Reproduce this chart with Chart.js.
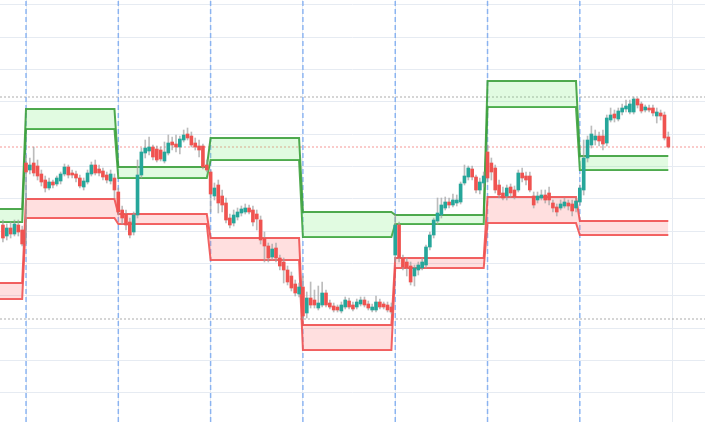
<!DOCTYPE html>
<html>
<head>
<meta charset="utf-8">
<script src="https://cdn.jsdelivr.net/npm/chart.js@4"></script>
<style>
  html, body { margin: 0; padding: 0; background: #fff; }
  #wrap { width: 705px; height: 422px; }
</style>
</head>
<body>
<div id="wrap"><canvas id="priceChart"></canvas></div>
<script>
// daily candles [open, high, low, close], one row per session
const ohlc = [
  // period 0 (partial)
  [200,205,183,187],[189,201,185,197],[197,203,187,191],[191,205,189,201],[200,205,189,193],[195,199,179,181],
  // period 1
  [262,270,181,253],[255,267,251,260],[262,278,249,252],[259,265,245,249],[251,255,239,243],[245,249,233,237],
  [237,247,235,243],[243,245,237,240],[241,249,239,247],[244,253,241,251],[251,261,249,258],[258,260,247,250],
  [252,255,247,250],[251,254,243,247],[247,250,237,239],[238,247,235,244],[243,255,241,252],[251,263,249,260],
  [260,265,250,252],[256,260,249,252],[254,257,245,248],[250,253,242,245],[244,255,241,251],[247,251,227,235],
  // period 2
  [233,237,210,213],[215,219,201,207],[211,215,195,200],[203,207,187,190],[193,213,190,210],[210,265,207,250],
  [250,277,247,273],[272,285,267,277],[274,288,270,278],[278,280,265,268],[276,279,263,265],[275,278,264,266],
  [264,283,262,273],[272,290,270,282],[283,288,275,280],[281,290,273,278],[278,289,271,286],[285,295,283,290],
  [291,297,285,287],[289,293,278,280],[282,287,275,278],[279,285,268,275],[279,281,256,258],[260,265,253,255],
  // period 3
  [253,255,213,231],[229,242,225,237],[240,245,212,222],[229,235,213,220],[222,227,202,205],[207,211,197,200],
  [202,215,199,210],[208,217,205,213],[212,219,209,216],[213,221,211,217],[217,220,211,213],[215,219,199,203],
  [211,215,195,206],[205,209,181,185],[187,193,163,179],[179,182,163,167],[168,181,165,176],[177,182,163,167],
  [167,170,155,159],[163,167,142,155],[155,159,140,143],[149,153,134,137],[141,145,129,132],[131,142,128,138],
  // period 4
  [138,149,106,109],[112,133,107,127],[127,143,117,120],[125,135,117,120],[117,139,115,122],[120,143,118,132],
  [132,135,118,120],[122,125,116,118],[119,122,113,115],[118,120,113,115],[114,123,112,120],[118,128,116,125],
  [124,127,116,118],[120,123,114,116],[118,126,116,123],[121,128,119,125],[125,128,118,120],[121,124,115,117],
  [115,121,113,118],[115,129,113,123],[123,126,116,118],[121,123,116,118],[120,123,113,115],[118,122,111,113],
  // period 5
  [170,210,163,200],[200,203,163,167],[167,170,155,158],[163,167,149,157],[159,163,140,143],[149,160,139,157],
  [155,163,150,160],[157,167,155,163],[160,180,157,178],[178,193,175,190],[190,207,187,205],[204,227,201,212],
  [210,227,207,220],[217,228,215,223],[223,227,217,220],[220,231,218,225],[222,230,219,225],[223,243,221,241],
  [242,260,240,249],[248,259,245,257],[256,259,245,248],[248,250,232,235],[235,247,231,243],[242,253,238,249],
  // period 6
  [273,280,243,247],[262,267,245,253],[257,260,232,235],[240,245,227,230],[232,238,225,227],[229,240,225,237],
  [238,241,228,232],[235,239,226,228],[235,255,233,252],[252,257,243,247],[249,253,240,245],[249,253,233,235],
  [229,233,217,220],[225,233,222,229],[227,235,225,230],[230,235,222,225],[232,238,220,225],[222,225,213,217],
  [218,221,209,213],[217,225,215,221],[219,227,217,223],[222,225,215,219],[221,225,209,214],[217,227,213,224],
  // period 7
  [223,240,220,237],[235,285,230,267],[267,289,263,285],[280,299,277,291],[285,295,280,289],[289,293,279,284],
  [289,295,275,281],[282,310,279,307],[305,317,303,310],[311,315,303,307],[306,317,304,314],[313,321,310,317],
  [316,325,313,319],[313,325,311,321],[313,328,311,326],[326,327,317,320],[321,323,312,314],[315,320,313,318],
  [317,320,313,315],[317,320,309,312],[309,317,302,313],[312,315,305,309],[310,313,285,287],[288,293,277,278]
];

// first session of each period (period 0 starts before the visible range)
const periodStarts = [0, 6, 30, 54, 78, 102, 126, 150];

// band levels per period
const greenTop    = [216, 316, 258, 287, 213, 210, 344, 269];
const greenBottom = [203, 296, 247, 265, 188, 201, 318, 255];
const redTop      = [142, 226, 211, 187, 100, 167, 228, 204];
const redBottom   = [126, 207, 201, 165,  75, 157, 202, 190];

// horizontal reference lines
const rangeHigh = 328;
const rangeLow = 106;
const lastPrice = 278;

// grid
const priceGrid = [420, 387.7, 355.4, 323.1, 290.8, 258.5, 226.2, 193.9, 161.6, 129.3, 97, 64.7, 32.4];
const timeGrid = [6, 30, 54, 78, 102, 126, 150, 174];

const xMin = -0.76, xMax = 182.54;
const yMin = 3, yMax = 425;
const lastIndex = ohlc.length - 1;

function bandPoints(levels) {
  const pts = [];
  levels.forEach((v, k) => {
    const from = k === 0 ? -1 : periodStarts[k];
    const to = k < periodStarts.length - 1 ? periodStarts[k + 1] - 1 : lastIndex;
    pts.push({ x: from, y: v }, { x: to, y: v });
  });
  return pts;
}

function bandLine(levels, color, fill, bg) {
  return {
    type: 'line',
    data: bandPoints(levels),
    borderColor: color,
    borderWidth: 2,
    pointRadius: 0,
    tension: 0,
    fill: fill,
    backgroundColor: bg,
    order: 3
  };
}

function hLine(v, color) {
  return {
    type: 'line',
    data: [{ x: xMin, y: v }, { x: xMax, y: v }],
    borderColor: color,
    borderWidth: 1,
    borderDash: [2, 2],
    pointRadius: 0,
    fill: false,
    order: 4
  };
}

const boundaryLines = periodStarts.slice(1).map(b => ({
  type: 'line',
  data: [{ x: b, y: yMin }, { x: b, y: yMax }],
  borderColor: 'rgba(100,155,240,0.7)',
  borderWidth: 1.5,
  borderDash: [5, 3],
  pointRadius: 0,
  fill: false,
  order: 4
}));

const ctx = document.getElementById('priceChart').getContext('2d');
new Chart(ctx, {
  type: 'bar',
  data: {
    datasets: [
      {
        label: 'body',
        data: ohlc.map((d, i) => ({ x: i, y: [d[0], d[3]] })),
        backgroundColor: c => {
          const d = ohlc[c.dataIndex];
          return d && d[3] >= d[0] ? '#26a69a' : '#ef5350';
        },
        barThickness: 3,
        grouped: false,
        order: 0
      },
      {
        label: 'wick',
        data: ohlc.map((d, i) => ({ x: i, y: [d[2], d[1]] })),
        backgroundColor: 'rgba(160,160,160,0.7)',
        barThickness: 1,
        grouped: false,
        order: 1
      },
      bandLine(greenTop, 'rgba(60,160,60,0.9)', '+1', 'rgba(120,235,120,0.22)'),
      bandLine(greenBottom, 'rgba(60,160,60,0.9)', false, 'transparent'),
      bandLine(redTop, 'rgba(240,80,80,0.9)', '+1', 'rgba(255,110,110,0.22)'),
      bandLine(redBottom, 'rgba(240,80,80,0.9)', false, 'transparent'),
      hLine(rangeHigh, 'rgba(150,150,150,0.8)'),
      hLine(rangeLow, 'rgba(150,150,150,0.8)'),
      hLine(lastPrice, 'rgba(239,83,80,0.6)'),
      ...boundaryLines
    ]
  },
  options: {
    responsive: true,
    maintainAspectRatio: false,
    animation: false,
    layout: { padding: 0 },
    plugins: { legend: { display: false }, tooltip: { enabled: false } },
    scales: {
      x: {
        type: 'linear',
        min: xMin,
        max: xMax,
        offset: false,
        afterBuildTicks: s => { s.ticks = timeGrid.map(v => ({ value: v })); },
        ticks: { display: false },
        grid: { color: '#e6ebf2', drawTicks: false, offset: false },
        border: { display: false }
      },
      y: {
        type: 'linear',
        min: yMin,
        max: yMax,
        afterBuildTicks: s => { s.ticks = priceGrid.map(v => ({ value: v })); },
        ticks: { display: false },
        grid: { color: '#e6ebf2', drawTicks: false },
        border: { display: false }
      }
    }
  }
});
</script>
</body>
</html>
